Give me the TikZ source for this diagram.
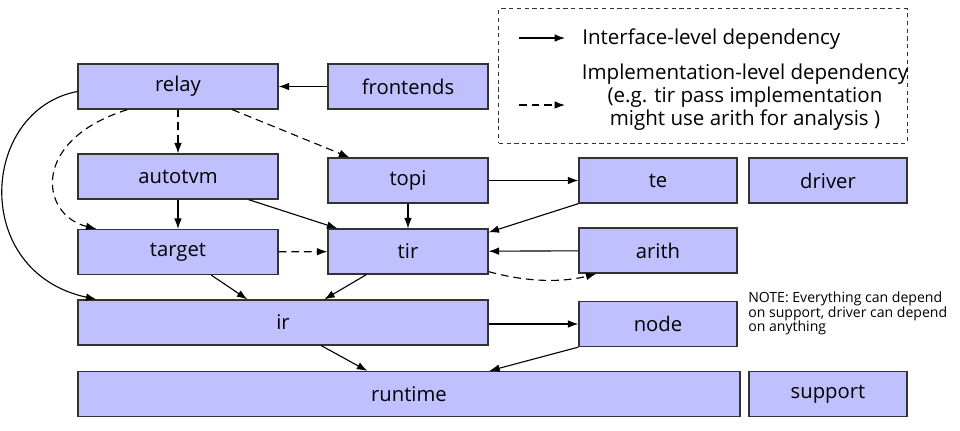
\documentclass[tikz,border=0pt]{standalone}
\usepackage{fontspec}
\setmainfont{Open Sans}
\usetikzlibrary{arrows.meta,calc}
\definecolor{boxfill}{HTML}{C0C0FF}
\definecolor{boxline}{HTML}{333333}
\tikzset{
        mod_n/.style = {draw=boxline, fill=boxfill, line width=0.9pt,
            minimum height=11.25mm, inner sep=0pt, font=\fontsize{14.4}{17}\selectfont},
        dep_s/.style = {->, line width=0.8pt},
        dep_d/.style = {->, line width=0.8pt, dash pattern=on 5.5pt off 3.5pt},
        txt_n/.style = {inner sep=0pt, font=\fontsize{14.6}{16.4}\selectfont}
    }
\begin{document}
\begin{tikzpicture}[x=0.025cm, y=-0.025cm, >={Latex[length=2.6mm,width=1.9mm]}]
    \useasboundingbox (0,0) rectangle (960,430);
    % modules
    \node [mod_n, minimum width=50mm] (relay) at (178,86.5) {relay};
    \node [mod_n, minimum width=40mm] (frontends) at (408,86.5) {frontends};
    \node [mod_n, minimum width=50mm] (autotvm) at (178,176.5) {autotvm};
    \node [mod_n, minimum width=40mm] (topi) at (408,180.5) {topi};
    \node [mod_n, minimum width=39.5mm] (te) at (658,180.5) {te};
    \node [mod_n, minimum width=39.5mm] (driver) at (828,180.5) {driver};
    \node [mod_n, minimum width=50mm] (target) at (178,252) {target};
    \node [mod_n, minimum width=40mm] (tir) at (408,251.5) {tir};
    \node [mod_n, minimum width=39.5mm] (arith) at (658,250.5) {arith};
    \node [mod_n, minimum width=102.5mm] (ir) at (283,322.5) {ir};
    \node [mod_n, minimum width=39.5mm] (node) at (658,324) {node};
    \node [mod_n, minimum width=165.5mm] (runtime) at (409,394) {runtime};
    \node [mod_n, minimum width=39.5mm] (support) at (828,394) {support};
    % legend
    \node [draw=boxline, line width=0.7pt, dash pattern=on 3pt off 2.5pt,
        minimum width=102mm, minimum height=33.5mm] (legend) at (703,76) {};
    \coordinate (ls1) at (519,38);
    \coordinate (le1) at (565,38);
    \coordinate (ls2) at (519,105);
    \coordinate (le2) at (565,105);
    \draw [dep_s] (ls1) -- (le1);
    \draw [dep_d] (ls2) -- (le2);
    \node [txt_n, anchor=west] (iface) at (582,39) {Interface-level dependency};
    \node [txt_n, align=center] (impl) at (745,97) {Implementation-level dependency\\
        (e.g. tir pass implementation\\might use arith for analysis )};
    \node [inner sep=0pt, anchor=north west, align=left, font=\fontsize{10}{10.2}\selectfont]
        (note) at (748,292) {NOTE: Everything can depend\\on support, driver can depend\\on anything};
    % interface-level
    \draw [dep_s] (frontends) -- (relay);
    \draw [dep_s] ($(relay.west)+(0,5)$) .. controls (-20,110) and (-30,272) .. ($(ir.north west)+(19,0)$);
    \draw [dep_s] (autotvm) -- (target);
    \draw [dep_s] ($(autotvm.south east)+(-30,0)$) -- ($(tir.north west)+(10,0)$);
    \draw [dep_s] (topi) -- (tir);
    \draw [dep_s] (topi) -- (te);
    \draw [dep_s] (te.south west) -- ($(tir.north east)+(0,4)$);
    \draw [dep_s] (arith) -- (tir);
    \draw [dep_s] ($(target.south west)+(134,0)$) -- ($(ir.north west)+(170,0)$);
    \draw [dep_s] ($(tir.south west)+(39,0)$) -- ($(ir.north west)+(247,0)$);
    \draw [dep_s] (ir.east |- node.west) -- (node.west);
    \draw [dep_s] ($(ir.south west)+(244,0)$) -- ($(runtime.north west)+(290,0)$);
    \draw [dep_s] (node.south west) -- ($(runtime.north west)+(412,0)$);
    % implementation-level
    \draw [dep_d] (relay) -- (autotvm);
    \draw [dep_d] ($(relay.south west)+(155,0)$) -- ($(topi.north west)+(22,0)$);
    \draw [dep_d] ($(relay.south west)+(50,0)$) .. controls (30,140) and (40,215) .. ($(target.north west)+(19,0)$);
    \draw [dep_d] (target) -- (tir);
    \draw [dep_d] ($(tir.south east)+(0,-3)$) .. controls (530,283) and (565,282) .. ($(arith.south west)+(18,0)$);
\end{tikzpicture}
\end{document}
